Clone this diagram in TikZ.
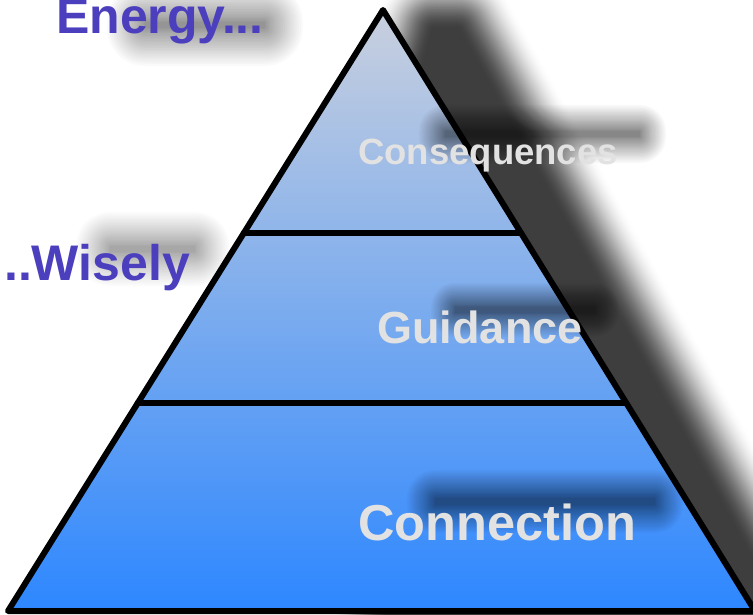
\documentclass[tikz,border=0pt]{standalone}
\usepackage{fontspec}
\setmainfont{Liberation Sans}
\usetikzlibrary{calc}
\definecolor{titlepurple}{RGB}{76,63,190}
\definecolor{labelgray}{RGB}{226,226,226}
\definecolor{pyrtop}{RGB}{201,208,222}
\definecolor{pyrbottom}{RGB}{45,135,255}
\definecolor{shadowcore}{RGB}{62,62,62}
% soft rectangular shadow: x1 y1 x2 y2 spread opacity-per-layer
\newcommand{\fuzzyrect}[6]{%
  \foreach \k in {0,...,23}{%
    \pgfmathsetmacro{\rr}{#5*(\k/23)^1.3+0.01}%
    \fill[black, opacity=#6, rounded corners=\rr pt] (#1-\rr,#2-\rr) rectangle (#3+\rr,#4+\rr);
  }}
\begin{document}
\begin{tikzpicture}[x=1pt,y=-1pt,
  toptext/.style={text=titlepurple, font=\fontsize{50}{60}\selectfont\bfseries, anchor=base, inner sep=0pt},
  tiertext/.style={text=labelgray, anchor=base, inner sep=0pt},
  pyrline/.style={line width=6pt, line join=round, line cap=round, draw=black}
]
\useasboundingbox (0,0) rectangle (753,615);
\fill[white] (0,0) rectangle (753,615);

\coordinate (apex) at (383,10);
\coordinate (bl) at (8,611);
\coordinate (br) at (755,611);
\coordinate (d1l) at ($(apex)!0.371!(bl)$);
\coordinate (d1r) at ($(apex)!0.371!(br)$);
\coordinate (d2l) at ($(apex)!0.654!(bl)$);
\coordinate (d2r) at ($(apex)!0.654!(br)$);

% big drop shadow of the pyramid (opaque layers over white, lightest first)
\foreach \k in {0,...,40}{%
  \pgfmathsetmacro{\dd}{60*(1-\k/40)}%
  \pgfmathsetmacro{\tt}{\dd/60}%
  \pgfmathsetmacro{\pp}{100*(1-(3*\tt*\tt-2*\tt*\tt*\tt))}%
  \colorlet{layercol}{shadowcore!\pp!white}%
  \filldraw[fill=layercol, draw=layercol, line width=2*\dd pt, line join=round]
    (434,30) -- (458,30) -- (780,611) -- (390,611) -- (405,200) -- (420,80) -- cycle;
}

% title text shadows
\fuzzyrect{145}{22}{265}{28}{38}{0.018}
\fuzzyrect{110}{246}{195}{252}{34}{0.016}

% pyramid body
\shade[top color=pyrtop, bottom color=pyrbottom] (apex) -- (bl) -- (br) -- cycle;

% label shadows
\fuzzyrect{445}{131}{640}{137}{26}{0.024}
\fuzzyrect{455}{307}{595}{313}{24}{0.024}
\fuzzyrect{435}{498}{655}{505}{28}{0.024}

% outlines
\draw[pyrline] (apex) -- (bl) -- (br) -- cycle;
\draw[pyrline] (d1l) -- (d1r);
\draw[pyrline] (d2l) -- (d2r);

% texts
\node[toptext] (energy) at (160,34) {Energy...};
\node[toptext] (wisely) at (97,280) {..Wisely};
\node[tiertext, font=\fontsize{36.5}{44}\selectfont\bfseries] (conseq) at (488,165) {Consequences};
\node[tiertext, font=\fontsize{45}{54}\selectfont\bfseries] (guid) at (480,343) {Guidance};
\node[tiertext, font=\fontsize{50.5}{60}\selectfont\bfseries] (conn) at (497,540) {Connection};
\end{tikzpicture}
\end{document}
